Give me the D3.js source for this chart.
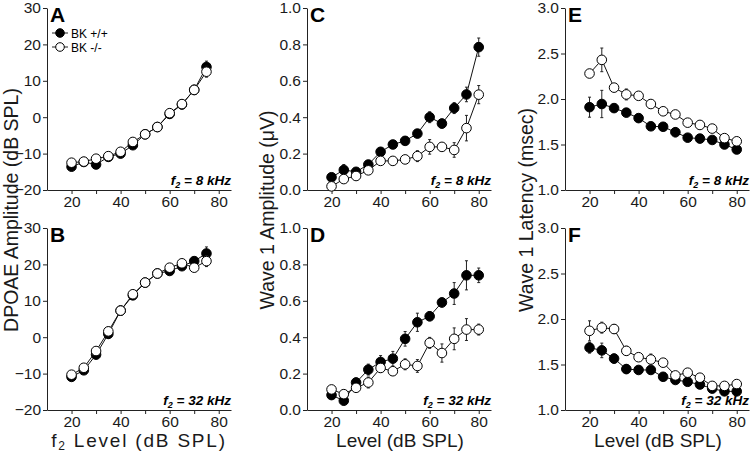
<!DOCTYPE html>
<html><head><meta charset="utf-8">
<script src="https://cdn.jsdelivr.net/npm/d3@7"></script>
<style>body{margin:0;background:#fff}svg{display:block;font-family:"Liberation Sans",Arial,Helvetica,sans-serif}</style>
</head><body><svg id="c" width="750" height="452"></svg>
<script>
const levelsA = [20,25,30,35,40,45,50,55,60,65,70,75];
const levelsC = [20,25,30,35,40,45,50,55,60,65,70,75,80];
const seriesNames = ["BK +/+","BK -/-"];

// A: DPOAE 8 kHz
const aWT  = [-13.6,-12.3,-13.0,-10.9,-10.0,-7.7,-4.7,-2.7,0.9,3.5,7.5,13.8];
const aWTe = [0.6,0.5,0.6,0.6,0.7,0.8,0.8,0.9,1.2,1.2,1.2,1.6];
const aKO  = [-12.5,-12.2,-11.4,-10.7,-9.5,-6.8,-4.7,-2.7,1.1,3.6,7.5,12.5];
const aKOe = [0.5,0.5,0.5,0.5,0.6,0.8,0.8,0.9,1.1,1.1,1.3,1.5];
// B: DPOAE 32 kHz
const bWT  = [-10.9,-9.1,-4.8,0.9,7.3,11.5,15.0,17.5,18.2,19.5,20.9,23.0];
const bWTe = [0.6,0.7,0.9,1.2,1.2,1.0,0.9,0.7,0.8,0.9,1.0,1.8];
const bKO  = [-10.3,-8.4,-3.8,1.6,7.3,11.8,15.0,17.5,19.1,20.3,19.1,20.9];
const bKOe = [0.6,0.7,0.9,1.2,1.3,1.0,0.9,0.7,0.7,0.8,1.0,1.5];
// C: Wave 1 amplitude 8 kHz
const cWT  = [0.07,0.11,0.10,0.14,0.21,0.25,0.27,0.31,0.40,0.365,0.45,0.525,0.785];
const cWTe = [0.015,0.03,0.015,0.02,0.02,0.02,0.02,0.02,0.03,0.025,0.03,0.04,0.05];
const cKO  = [0.02,0.06,0.077,0.108,0.16,0.16,0.168,0.186,0.237,0.237,0.22,0.34,0.524];
const cKOe = [0.01,0.015,0.015,0.02,0.02,0.02,0.02,0.03,0.04,0.02,0.04,0.07,0.05];
// D: Wave 1 amplitude 32 kHz
const dWT  = [0.082,0.051,0.151,0.222,0.264,0.282,0.391,0.482,0.515,0.591,0.64,0.74,0.74];
const dWTe = [0.02,0.02,0.025,0.03,0.035,0.04,0.04,0.05,0.025,0.025,0.06,0.08,0.04];
const dKO  = [0.113,0.087,0.122,0.151,0.231,0.213,0.251,0.242,0.369,0.313,0.391,0.442,0.442];
const dKOe = [0.015,0.02,0.015,0.03,0.025,0.02,0.03,0.035,0.03,0.05,0.06,0.06,0.03];
// E: Wave 1 latency 8 kHz
const eWT  = [1.91,1.945,1.9,1.85,1.79,1.70,1.695,1.635,1.575,1.565,1.55,1.50,1.445];
const eWTe = [0.11,0.15,0.04,0.03,0.03,0.03,0.04,0.05,0.02,0.02,0.03,0.03,0.02];
const eKO  = [2.28,2.43,2.125,2.05,2.035,1.945,1.865,1.83,1.74,1.715,1.675,1.57,1.535];
const eKOe = [0.02,0.13,0.04,0.06,0.04,0.02,0.02,0.02,0.02,0.02,0.02,0.02,0.02];
// F: Wave 1 latency 32 kHz
const fWT  = [1.685,1.655,1.565,1.45,1.44,1.44,1.365,1.33,1.31,1.28,1.235,1.205,1.205];
const fWTe = [0.06,0.08,0.05,0.05,0.04,0.04,0.02,0.02,0.02,0.02,0.02,0.02,0.02];
const fKO  = [1.87,1.905,1.89,1.65,1.58,1.555,1.52,1.38,1.41,1.355,1.265,1.265,1.285];
const fKOe = [0.11,0.06,0.05,0.05,0.02,0.06,0.02,0.02,0.03,0.02,0.02,0.02,0.02];

const xTickValues = [20,30,40,50,60,70,80];
const xTickLabels = [20,40,60,80];
const ticksDP = [-20,-10,0,10,20,30];
const ticksAmp = [0,0.2,0.4,0.6,0.8,1.0];
const ticksLat = [1.0,1.5,2.0,2.5,3.0];

const panels = [
  {letter:"A", left:47,  top:8,   x:levelsA, wt:aWT, wte:aWTe, ko:aKO, koe:aKOe, dom:[-20,30], ticks:ticksDP, fmt:d3.format("d"), freq:"8 kHz", legend:true},
  {letter:"B", left:47,  top:228, x:levelsA, wt:bWT, wte:bWTe, ko:bKO, koe:bKOe, dom:[-20,30], ticks:ticksDP, fmt:d3.format("d"), freq:"32 kHz"},
  {letter:"C", left:307, top:8,   x:levelsC, wt:cWT, wte:cWTe, ko:cKO, koe:cKOe, dom:[0,1], ticks:ticksAmp, fmt:d3.format(".1f"), freq:"8 kHz"},
  {letter:"D", left:307, top:228, x:levelsC, wt:dWT, wte:dWTe, ko:dKO, koe:dKOe, dom:[0,1], ticks:ticksAmp, fmt:d3.format(".1f"), freq:"32 kHz"},
  {letter:"E", left:565, top:8,   x:levelsC, wt:eWT, wte:eWTe, ko:eKO, koe:eKOe, dom:[1,3], ticks:ticksLat, fmt:d3.format(".1f"), freq:"8 kHz"},
  {letter:"F", left:565, top:228, x:levelsC, wt:fWT, wte:fWTe, ko:fKO, koe:fKOe, dom:[1,3], ticks:ticksLat, fmt:d3.format(".1f"), freq:"32 kHz"}
];

const svg = d3.select("#c");
const W = 184, H = 182, R = 4.8;

panels.forEach(p => {
  const x = d3.scaleLinear().domain([10,85]).range([p.left, p.left+W]);
  const y = d3.scaleLinear().domain(p.dom).range([p.top+H, p.top]);
  const g = svg.append("g");

  const ya = g.append("g").attr("transform",`translate(${p.left},0)`)
    .call(d3.axisLeft(y).tickValues(p.ticks).tickFormat(p.fmt).tickSize(4).tickSizeOuter(0).tickPadding(2));
  const xa = g.append("g").attr("transform",`translate(0,${p.top+H})`)
    .call(d3.axisBottom(x).tickValues(xTickValues).tickFormat(d => xTickLabels.includes(d) ? d : "").tickSize(4).tickSizeOuter(0).tickPadding(2));
  [ya,xa].forEach(a => {
    a.selectAll("text").attr("font-size",15.5).attr("fill","#1a1a1a").attr("font-family","'Liberation Sans',Arial,sans-serif");
    a.selectAll("line,path").attr("stroke","#222").attr("stroke-width",1);
  });

  g.append("text").attr("x",p.left+3).attr("y",p.top+13.5).attr("font-size",21).attr("font-weight","900").text(p.letter);

  const ft = g.append("text").attr("x",p.left+W).attr("y",p.top+H-5.5).attr("text-anchor","end")
    .attr("font-size",13.5).attr("font-weight","bold").attr("font-style","italic");
  ft.append("tspan").text("f");
  ft.append("tspan").attr("font-size",9).attr("dy",3).text("2");
  ft.append("tspan").attr("dy",-3).text(" = " + p.freq);

  const series = [{v:p.wt, e:p.wte, fill:"#000"},{v:p.ko, e:p.koe, fill:"#fff"}];
  series.forEach(s => {
    const pts = p.x.map((lv,i)=>({lv, v:s.v[i], e:s.e[i]}));
    const eb = g.append("g").attr("stroke","#222").attr("stroke-width",1);
    pts.forEach(d => {
      eb.append("line").attr("x1",x(d.lv)).attr("x2",x(d.lv)).attr("y1",y(d.v-d.e)).attr("y2",y(d.v+d.e));
      eb.append("line").attr("x1",x(d.lv)-1.5).attr("x2",x(d.lv)+1.5).attr("y1",y(d.v-d.e)).attr("y2",y(d.v-d.e));
      eb.append("line").attr("x1",x(d.lv)-1.5).attr("x2",x(d.lv)+1.5).attr("y1",y(d.v+d.e)).attr("y2",y(d.v+d.e));
    });
    g.append("path").datum(pts).attr("fill","none").attr("stroke","#111").attr("stroke-width",1)
      .attr("d", d3.line().x(d=>x(d.lv)).y(d=>y(d.v)));
    g.append("g").selectAll("circle").data(pts).join("circle")
      .attr("cx",d=>x(d.lv)).attr("cy",d=>y(d.v)).attr("r",R)
      .attr("fill",s.fill).attr("stroke","#000").attr("stroke-width",1);
  });

  if (p.legend) {
    const lg = g.append("g");
    seriesNames.forEach((n,i) => {
      const yy = p.top + 25 + i*14;
      lg.append("line").attr("x1",p.left+5).attr("x2",p.left+21).attr("y1",yy).attr("y2",yy).attr("stroke","#222");
      lg.append("circle").attr("cx",p.left+13).attr("cy",yy).attr("r",4.3).attr("fill",i===0?"#000":"#fff").attr("stroke","#000");
      lg.append("text").attr("x",p.left+24).attr("y",yy+4.5).attr("font-size",12).text(n);
    });
  }
});

// axis titles
const yTitles = [
  {x:18, text:"DPOAE Amplitude (dB SPL)"},
  {x:274, text:"Wave 1 Amplitude (μV)"},
  {x:533, text:"Wave 1 Latency (msec)"}
];
yTitles.forEach(t => {
  svg.append("text").attr("transform",`translate(${t.x},210) rotate(-90)`).attr("text-anchor","middle")
    .attr("font-size",19.5).attr("fill","#1a1a1a").text(t.text);
});
const xt = svg.append("text").attr("x",139).attr("y",447).attr("text-anchor","middle").attr("font-size",19)
  .attr("letter-spacing",1.8).attr("fill","#1a1a1a");
xt.append("tspan").text("f");
xt.append("tspan").attr("font-size",12).attr("dy",3).text("2");
xt.append("tspan").attr("dy",-3).text(" Level (dB SPL)");
[400,658].forEach(cx => {
  svg.append("text").attr("x",cx).attr("y",447).attr("text-anchor","middle").attr("font-size",19).attr("fill","#1a1a1a").text("Level (dB SPL)");
});
</script></body></html>
